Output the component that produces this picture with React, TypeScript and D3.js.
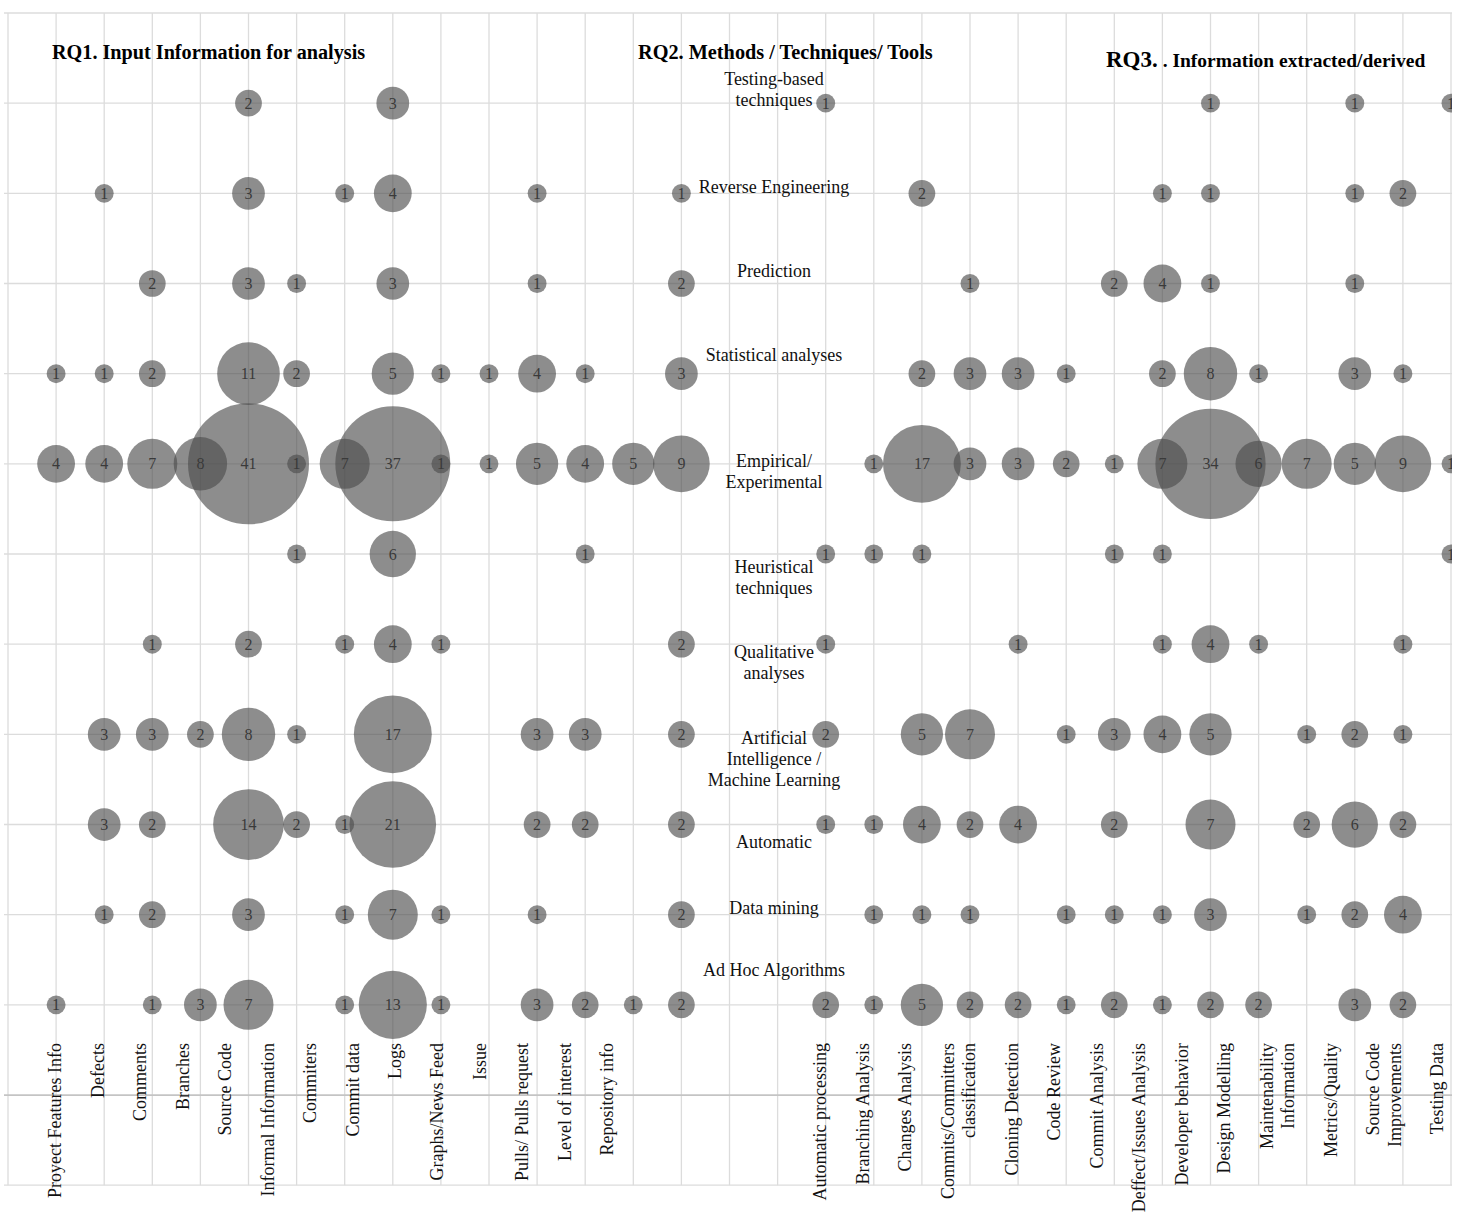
import React from "react";
import * as d3 from "d3";

// ---------- DATA ----------
const methodLabels: string[][] = [
  ["Testing-based", "techniques"],
  ["Reverse  Engineering"],
  ["Prediction"],
  ["Statistical  analyses"],
  ["Empirical/", "Experimental"],
  ["Heuristical", "techniques"],
  ["Qualitative", "analyses"],
  ["Artificial", "Intelligence  /", "Machine Learning"],
  ["Automatic"],
  ["Data mining"],
  ["Ad Hoc Algorithms"],
];

const inputCategories: string[] = [
  "Proyect Features Info",
  "Defects",
  "Comments",
  "Branches",
  "Source Code",
  "Informal  Information",
  "Commiters",
  "Commit  data",
  "Logs",
  "Graphs/News Feed",
  "Issue",
  "Pulls/ Pulls request",
  "Level of interest",
  "Repository info",
];

const outputCategories: string[][] = [
  ["Automatic  processing"],
  ["Branching Analysis"],
  ["Changes Analysis"],
  ["Commits/Committers", "classification"],
  ["Cloning  Detection"],
  ["Code Review"],
  ["Commit  Analysis"],
  ["Deffect/Issues  Analysis"],
  ["Developer  behavior"],
  ["Design  Modelling"],
  ["Maintenability", "Information"],
  ["Metrics/Quality"],
  ["Source Code", "Improvements"],
  ["Testing  Data"],
];

// rows = methods, columns = input categories (0 = no bubble)
const inputCounts: number[][] = [
  [0, 0, 0, 0, 2, 0, 0, 3, 0, 0, 0, 0, 0, 0],
  [0, 1, 0, 0, 3, 0, 1, 4, 0, 0, 1, 0, 0, 1],
  [0, 0, 2, 0, 3, 1, 0, 3, 0, 0, 1, 0, 0, 2],
  [1, 1, 2, 0, 11, 2, 0, 5, 1, 1, 4, 1, 0, 3],
  [4, 4, 7, 8, 41, 1, 7, 37, 1, 1, 5, 4, 5, 9],
  [0, 0, 0, 0, 0, 1, 0, 6, 0, 0, 0, 1, 0, 0],
  [0, 0, 1, 0, 2, 0, 1, 4, 1, 0, 0, 0, 0, 2],
  [0, 3, 3, 2, 8, 1, 0, 17, 0, 0, 3, 3, 0, 2],
  [0, 3, 2, 0, 14, 2, 1, 21, 0, 0, 2, 2, 0, 2],
  [0, 1, 2, 0, 3, 0, 1, 7, 1, 0, 1, 0, 0, 2],
  [1, 0, 1, 3, 7, 0, 1, 13, 1, 0, 3, 2, 1, 2],
];

// rows = methods, columns = output categories
const outputCounts: number[][] = [
  [1, 0, 0, 0, 0, 0, 0, 0, 1, 0, 0, 1, 0, 1],
  [0, 0, 2, 0, 0, 0, 0, 1, 1, 0, 0, 1, 2, 0],
  [0, 0, 0, 1, 0, 0, 2, 4, 1, 0, 0, 1, 0, 0],
  [0, 0, 2, 3, 3, 1, 0, 2, 8, 1, 0, 3, 1, 0],
  [0, 1, 17, 3, 3, 2, 1, 7, 34, 6, 7, 5, 9, 1],
  [1, 1, 1, 0, 0, 0, 1, 1, 0, 0, 0, 0, 0, 1],
  [1, 0, 0, 0, 1, 0, 0, 1, 4, 1, 0, 0, 1, 0],
  [2, 0, 5, 7, 0, 1, 3, 4, 5, 0, 1, 2, 1, 0],
  [1, 1, 4, 2, 4, 0, 2, 0, 7, 0, 2, 6, 2, 0],
  [0, 1, 1, 1, 0, 1, 1, 1, 3, 0, 1, 2, 4, 0],
  [2, 1, 5, 2, 2, 1, 2, 1, 2, 2, 0, 3, 2, 0],
];

const titleRQ1 = "RQ1. Input Information  for analysis";
const titleRQ2 = "RQ2. Methods / Techniques/ Tools";
const titleRQ3a = "RQ3.";
const titleRQ3b = ". Information extracted/derived";

// ---------- LAYOUT ----------
const W = 1464;
const H = 1217;
const FONT = '"Liberation Serif", "Times New Roman", serif';
const NCOLS = 30;
const NROWS = 13;
const inputStart = 1;
const outputStart = 17;
// vertical offsets of method label lines relative to their row
const methodLabelOffsets: number[] = [-16, 1, -5, -11, 5, 21, 16, 11, 25, 1, -27];
const lineGap = 21;

export default function App() {
  const x = d3.scaleLinear().domain([0, NCOLS]).range([8, 1451]);
  const y = d3.scaleLinear().domain([0, NROWS]).range([13, 1185.2]);
  const r = d3.scaleSqrt().domain([0, 41]).range([0, 60.5]);
  const xIn = d3.scaleLinear().domain([0, inputCategories.length - 1]).range([55, 607]);

  type Bubble = { cx: number; cy: number; v: number; key: string };
  const bubbles: Bubble[] = [];
  inputCounts.forEach((row, m) =>
    row.forEach((v, i) => {
      if (v > 0) bubbles.push({ cx: x(inputStart + i), cy: y(m + 1), v, key: `i${m}-${i}` });
    })
  );
  outputCounts.forEach((row, m) =>
    row.forEach((v, i) => {
      if (v > 0) bubbles.push({ cx: x(outputStart + i), cy: y(m + 1), v, key: `o${m}-${i}` });
    })
  );

  // flow layout for output labels (rotated)
  const outLabelStep = 42.5;
  const outLineStep = 21.5;
  const outPositions: number[][] = [];
  let cur = 820;
  outputCategories.forEach((lines) => {
    const pos: number[] = [];
    lines.forEach((_, li) => {
      pos.push(cur + li * outLineStep);
    });
    outPositions.push(pos);
    cur = pos[pos.length - 1] + outLabelStep;
  });

  const labelTop = 1043;
  const plotLeft = x(0);
  const plotRight = x(NCOLS) + 1;

  return (
    <svg
      width={W}
      height={H}
      xmlSpace="preserve"
      style={{ position: "absolute", left: 0, top: 0, display: "block", background: "#fff" }}
      fontFamily={FONT}
    >
      <defs>
        <clipPath id="plotClip">
          <rect x={plotLeft} y={y(0)} width={plotRight - plotLeft} height={y(NROWS) - y(0)} />
        </clipPath>
      </defs>
      <rect x={0} y={0} width={W} height={H} fill="#fff" />

      {/* grid */}
      <g>
        {d3.range(NCOLS + 1).map((k) => (
          <line key={`v${k}`} x1={x(k)} x2={x(k)} y1={y(0)} y2={y(NROWS)} stroke="#dcdcdc" strokeWidth={1.3} />
        ))}
        {d3.range(NROWS + 1).map((j) => (
          <line
            key={`h${j}`}
            x1={plotLeft - 4}
            x2={plotRight}
            y1={y(j)}
            y2={y(j)}
            stroke={j === 12 ? "#c4c4c4" : "#dcdcdc"}
            strokeWidth={j === 12 ? 1.8 : 1.3}
          />
        ))}
      </g>

      {/* bubbles */}
      <g clipPath="url(#plotClip)">
        {bubbles.map((b) => (
          <circle key={b.key} cx={b.cx} cy={b.cy} r={r(b.v)} fill="#4d4d4d" fillOpacity={0.64} />
        ))}
        {bubbles.map((b) => (
          <text
            key={`t${b.key}`}
            x={b.cx}
            y={b.cy}
            dy="0.35em"
            textAnchor="middle"
            fontSize={16}
            fill="#3a3a3a"
          >
            {b.v}
          </text>
        ))}
      </g>

      {/* method labels */}
      <g fontSize={18} fill="#111" textAnchor="middle">
        {methodLabels.map((lines, m) =>
          lines.map((ln, li) => (
            <text key={`m${m}-${li}`} x={774} y={y(m + 1) + methodLabelOffsets[m] + li * lineGap} dy="-0.1em">
              {ln}
            </text>
          ))
        )}
      </g>

      {/* category labels (rotated) */}
      <g fontSize={18} fill="#111" textAnchor="end">
        {inputCategories.map((c, i) => (
          <text key={`ic${i}`} transform={`translate(${xIn(i)},${labelTop}) rotate(-90)`} dy="0.35em">
            {c}
          </text>
        ))}
        {outputCategories.map((lines, i) =>
          lines.map((ln, li) => (
            <text
              key={`oc${i}-${li}`}
              transform={`translate(${outPositions[i][li]},${labelTop}) rotate(-90)`}
              dy="0.35em"
            >
              {ln}
            </text>
          ))
        )}
      </g>

      {/* titles */}
      <g fontWeight="bold" fill="#000">
        <text x={52} y={59} fontSize={20.2}>{titleRQ1}</text>
        <text x={638} y={59} fontSize={20.3}>{titleRQ2}</text>
        <text x={1106} y={67} fontSize={23}>
          {titleRQ3a}
          <tspan fontSize={19.5}>{" " + titleRQ3b}</tspan>
        </text>
      </g>
    </svg>
  );
}
